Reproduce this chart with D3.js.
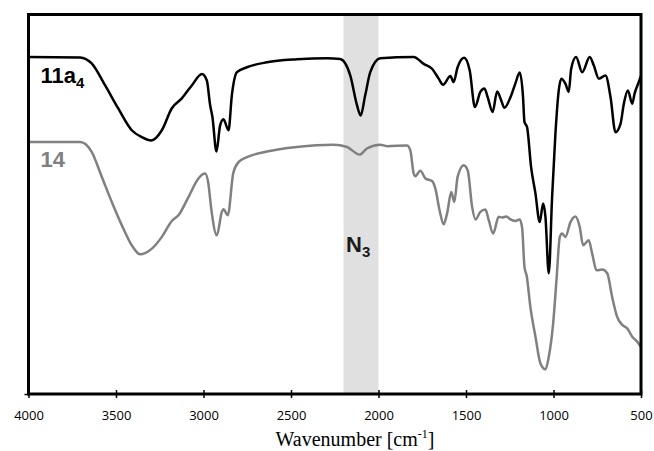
<!DOCTYPE html>
<html>
<head>
<meta charset="utf-8">
<script src="https://cdn.jsdelivr.net/npm/d3@7"></script>
<style>
  body { margin: 0; background: #fff; }
  svg { display: block; }
</style>
</head>
<body>
<div id="chart"></div>
<script>
// Wavenumbers (cm-1) and transmittance (arbitrary %)

// 11a4 spectrum
const wn11a4 = [4000, 3705, 3639, 3562, 3488, 3410, 3353, 3299, 3238, 3181, 3124, 3067, 3009, 2981, 2962, 2949, 2926, 2905, 2886, 2857, 2838, 2809, 2752, 2638, 2466, 2295, 2219, 2161, 2123, 2102, 2076, 2047, 1990, 1799, 1742, 1694, 1656, 1631, 1589, 1571, 1548, 1511, 1479, 1449, 1418, 1395, 1376, 1348, 1322, 1299, 1281, 1246, 1218, 1193, 1174, 1166, 1151, 1128, 1103, 1079, 1059, 1046, 1027, 1008, 989, 970, 955, 932, 913, 899, 871, 836, 793, 770, 741, 703, 674, 646, 617, 598, 575, 550, 537, 513, 500];
const t11a4 = [88.8, 88.7, 87.1, 81.3, 75.3, 69.5, 67.7, 66.8, 69.5, 75.3, 77.9, 81.3, 84.3, 82.6, 76.1, 73.0, 63.9, 70.8, 72.4, 69.5, 78.7, 84.8, 86.1, 87.4, 88.2, 88.5, 88.3, 83.9, 76.1, 73.4, 78.7, 84.8, 88.5, 88.8, 87.0, 85.7, 83.1, 81.5, 83.8, 82.2, 86.1, 88.6, 85.3, 75.6, 79.6, 80.5, 78.2, 74.3, 79.7, 77.4, 75.4, 78.2, 81.8, 84.7, 78.2, 71.7, 70.3, 59.8, 52.8, 45.3, 50.2, 46.7, 31.8, 51.9, 68.6, 80.0, 83.1, 81.8, 79.6, 85.7, 88.8, 84.8, 88.8, 86.6, 83.1, 83.9, 78.2, 69.0, 71.2, 76.5, 80.0, 76.5, 79.1, 82.2, 83.9];

// 14 spectrum
const wn14 = [4000, 3705, 3639, 3581, 3524, 3467, 3410, 3362, 3295, 3238, 3181, 3143, 3086, 3029, 2991, 2972, 2956, 2924, 2895, 2886, 2861, 2830, 2800, 2752, 2638, 2466, 2257, 2180, 2108, 2066, 1990, 1951, 1837, 1818, 1799, 1790, 1761, 1732, 1694, 1675, 1651, 1628, 1608, 1584, 1567, 1548, 1513, 1490, 1465, 1446, 1418, 1389, 1370, 1345, 1313, 1294, 1269, 1246, 1218, 1193, 1179, 1166, 1153, 1132, 1103, 1075, 1046, 1027, 1002, 983, 964, 951, 932, 903, 875, 850, 831, 799, 779, 754, 722, 693, 665, 636, 607, 579, 550, 522, 500];
const t14 = [66.4, 66.4, 63.8, 57.2, 50.6, 44.5, 39.2, 36.8, 38.3, 41.4, 45.6, 47.1, 51.9, 56.8, 58.1, 55.4, 48.9, 41.8, 48.0, 48.7, 47.1, 58.2, 61.1, 62.4, 63.9, 65.1, 65.7, 65.1, 63.1, 64.7, 65.7, 65.3, 65.5, 64.2, 58.1, 57.4, 58.8, 56.8, 56.1, 54.1, 48.4, 44.7, 47.6, 53.2, 50.6, 57.2, 60.3, 58.9, 49.3, 46.0, 48.0, 48.6, 45.8, 42.3, 46.7, 46.5, 46.8, 46.0, 45.6, 46.0, 43.7, 33.5, 31.1, 22.9, 15.1, 8.1, 6.5, 9.8, 18.6, 30.0, 41.4, 42.3, 41.4, 45.3, 46.8, 44.0, 39.2, 40.5, 37.0, 32.6, 32.8, 31.8, 25.6, 20.3, 18.2, 17.3, 15.1, 13.8, 12.4];

// Axis ticks and the azide band
const xTicks = [4000, 3500, 3000, 2500, 2000, 1500, 1000, 500];
const band = [2200, 2000];

const width = 654;
const height = 451;
const margin = {top: 14.5, right: 13, bottom: 57, left: 28.5};

const svg = d3.select('#chart')
  .append('svg')
  .attr('width', width)
  .attr('height', height);

const x = d3.scaleLinear()
  .domain([4000, 500])
  .range([margin.left, width - margin.right]);

const y = d3.scaleLinear()
  .domain([0, 100])
  .range([height - margin.bottom, margin.top]);

// Shaded N3 band
svg.append('rect')
  .attr('x', x(band[0]))
  .attr('y', y(100))
  .attr('width', x(band[1]) - x(band[0]))
  .attr('height', y(0) - y(100))
  .attr('fill', '#e0e0e0');

// Lines
const line = d3.line()
  .x(d => x(d[0]))
  .y(d => y(d[1]))
  .curve(d3.curveMonotoneX);

svg.append('path')
  .datum(d3.zip(wn14, t14))
  .attr('fill', 'none')
  .attr('stroke', '#808080')
  .attr('stroke-width', 2.5)
  .attr('stroke-linejoin', 'round')
  .attr('d', line);

svg.append('path')
  .datum(d3.zip(wn11a4, t11a4))
  .attr('fill', 'none')
  .attr('stroke', '#000')
  .attr('stroke-width', 2.5)
  .attr('stroke-linejoin', 'round')
  .attr('d', line);

// Frame
svg.append('rect')
  .attr('x', x(4000))
  .attr('y', y(100))
  .attr('width', x(500) - x(4000))
  .attr('height', y(0) - y(100))
  .attr('fill', 'none')
  .attr('stroke', '#000')
  .attr('stroke-width', 3);

// Bottom axis
const xAxis = svg.append('g')
  .attr('transform', `translate(0,${y(0)})`)
  .call(d3.axisBottom(x).tickValues(xTicks).tickSize(4).tickFormat(d3.format('d')));

xAxis.select('.domain').remove();
xAxis.selectAll('.tick line')
  .attr('y1', -4)
  .attr('y2', 4)
  .attr('stroke-width', 1.5);
xAxis.selectAll('.tick text')
  .attr('y', 26)
  .attr('dy', 0)
  .attr('font-family', '"Open Sans", sans-serif')
  .attr('font-size', 13)
  .attr('fill', '#000');

// Small tick on left at bottom
const yAxis = svg.append('g')
  .attr('transform', `translate(${x(4000)},0)`)
  .call(d3.axisLeft(y).tickValues([0]).tickSize(4).tickFormat(''));
yAxis.select('.domain').remove();
yAxis.selectAll('.tick line').attr('stroke-width', 1.5);

// Axis title
const title = svg.append('text')
  .attr('x', 355)
  .attr('y', 446)
  .attr('text-anchor', 'middle')
  .attr('font-family', '"Liberation Serif", "Times New Roman", serif')
  .attr('font-size', 20)
  .attr('fill', '#000');
title.append('tspan').text('Wavenumber [cm');
title.append('tspan').attr('font-size', 12).attr('dy', -8).text('-1');
title.append('tspan').attr('dy', 8).text(']');

// Series labels
function label(px, py, main, sub, colour) {
  const t = svg.append('text')
    .attr('x', px)
    .attr('y', py)
    .attr('font-family', '"Liberation Sans", Arial, sans-serif')
    .attr('font-weight', 'bold')
    .attr('font-size', 22)
    .attr('fill', colour);
  t.append('tspan').text(main);
  if (sub) {
    t.append('tspan').attr('font-size', 15).attr('dy', 5).text(sub);
  }
}

label(40.5, 82.5, '11a', '4', '#000');
label(40.5, 166.5, '14', null, '#808080');
label(346, 251.5, 'N', '3', '#1a1a1a');
</script>
</body>
</html>
